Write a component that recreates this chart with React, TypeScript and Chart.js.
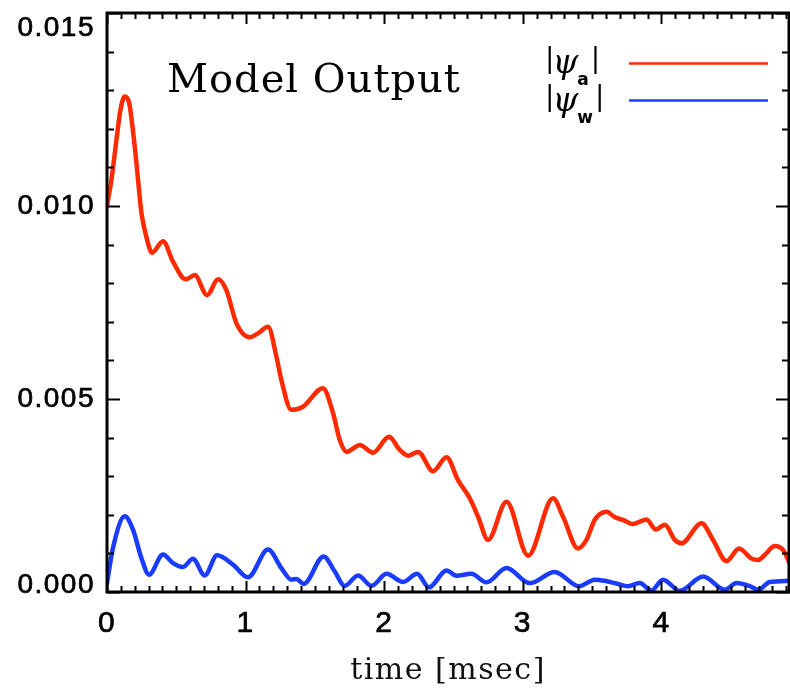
import { useEffect, useRef } from 'react';
import { Chart, registerables } from 'chart.js';

Chart.register(...registerables);

// ---------- data ----------
const titleText = 'Model Output';
const xAxisTitle = 'time [msec]';
const xMin = 0;
const xMax = 4.92;
const yMin = 0;
const yMax = 0.015;
const xMajorStep = 1;
const xMinorStep = 0.1;
const yMajorStep = 0.005;
const yMinorStep = 0.001;

const seriesLabels = ['|ψa|', '|ψw|'];
const seriesSymbols = ['ψ', 'ψ'];
const seriesSubscripts = ['a', 'w'];
const seriesColors = ['#ff2a00', '#1a3cff'];

// |psi_a| (red)
const redTime = [
  0, 0.032, 0.068, 0.097, 0.128, 0.159, 0.2, 0.224, 0.248, 0.284, 0.325, 0.404, 0.476, 0.568,
  0.633, 0.722, 0.801, 0.861, 0.934, 1.03, 1.089, 1.162, 1.222, 1.258, 1.33, 1.414, 1.558,
  1.631, 1.679, 1.732, 1.775, 1.823, 1.919, 2.035, 2.112, 2.172, 2.244, 2.352, 2.449, 2.532,
  2.617, 2.677, 2.749, 2.882, 3.038, 3.218, 3.29, 3.398, 3.459, 3.519, 3.603, 3.663, 3.735,
  3.791, 3.892, 3.959, 4.024, 4.096, 4.144, 4.289, 4.372, 4.469, 4.56, 4.649, 4.697, 4.745,
  4.817, 4.877, 4.92,
];
const redValue = [
  0.01001, 0.01068, 0.01171, 0.01249, 0.01284, 0.01268, 0.01154, 0.01068, 0.00983, 0.0092,
  0.00879, 0.00909, 0.00856, 0.0081, 0.00821, 0.00769, 0.0081, 0.00782, 0.00696, 0.0066,
  0.0067, 0.00687, 0.0061, 0.00549, 0.00472, 0.0048, 0.00528, 0.00463, 0.00394, 0.00363,
  0.00372, 0.00381, 0.00361, 0.00402, 0.00368, 0.00353, 0.00363, 0.00313, 0.00349, 0.0029,
  0.00243, 0.00195, 0.00135, 0.00234, 0.00094, 0.00243, 0.00195, 0.00113, 0.00135, 0.00187,
  0.00208, 0.00194, 0.00185, 0.00176, 0.00188, 0.00162, 0.00174, 0.00135, 0.00126, 0.00178,
  0.00135, 0.0008, 0.00113, 0.00087, 0.00083, 0.00096, 0.00119, 0.00109, 0.00078,
];

// |psi_w| (blue)
const blueTime = [
  0, 0.043, 0.128, 0.188, 0.248, 0.303, 0.404, 0.476, 0.548, 0.62, 0.705, 0.794, 0.909, 1.017,
  1.162, 1.258, 1.33, 1.366, 1.419, 1.563, 1.643, 1.715, 1.811, 1.908, 2.016, 2.136, 2.237,
  2.323, 2.449, 2.521, 2.629, 2.737, 2.882, 3.05, 3.23, 3.406, 3.519, 3.591, 3.675, 3.759,
  3.843, 3.928, 4.011, 4.132, 4.3, 4.457, 4.541, 4.637, 4.697, 4.781, 4.92,
];
const blueValue = [
  0.00023, 0.00114, 0.00196, 0.00161, 0.00088, 0.00045, 0.00097, 0.00075, 0.00065, 0.00086,
  0.00043, 0.00095, 0.00071, 0.00038, 0.0011, 0.00062, 0.00032, 0.00034, 0.00021, 0.00092,
  0.00053, 0.00016, 0.00043, 0.00016, 0.00047, 0.00026, 0.00047, 0.00012, 0.00056, 0.00042,
  0.00047, 0.00025, 0.00062, 0.00023, 0.00052, 0.00015, 0.00032, 0.00029, 0.00022, 0.00015,
  0.00023, 0.00004, 0.00032, 0.00003, 0.0004, 0.00006, 0.00023, 0.00015, 0.00006, 0.00026,
  0.00029,
];

const toPoints = (xs: number[], ys: number[]) => xs.map((x, i) => ({ x, y: ys[i] }));

// ---------- plugin: letter spacing for axis text ----------
const spacingPlugin = {
  id: 'spacing',
  beforeDraw(chart: any) {
    (chart.ctx as any).letterSpacing = '1.5px';
  },
  afterDraw(chart: any) {
    (chart.ctx as any).letterSpacing = '0px';
  },
};

// ---------- plugin: frame, inward ticks, title, legend ----------
const decorPlugin = {
  id: 'decor',
  afterDraw(chart: any) {
    const { ctx, chartArea: a, scales } = chart;
    const xs = scales.x;
    const ys = scales.y;
    ctx.save();
    (ctx as any).letterSpacing = '0px';
    ctx.strokeStyle = '#000';
    ctx.lineCap = 'butt';

    // minor/major ticks, pointing inward, mirrored on opposite sides
    ctx.lineWidth = 2;
    ctx.beginPath();
    const nx = Math.floor((xMax - xMin) / xMinorStep + 1e-6);
    for (let i = 0; i <= nx; i++) {
      const v = xMin + i * xMinorStep;
      const px = Math.round(xs.getPixelForValue(v)) + 0.5;
      const major = Math.abs(v / xMajorStep - Math.round(v / xMajorStep)) < 1e-6;
      const len = major ? 11 : 6;
      ctx.moveTo(px, a.bottom);
      ctx.lineTo(px, a.bottom - len);
      ctx.moveTo(px, a.top);
      ctx.lineTo(px, a.top + len);
    }
    const ny = Math.round((yMax - yMin) / yMinorStep);
    for (let i = 0; i <= ny; i++) {
      const v = yMin + i * yMinorStep;
      const py = Math.round(ys.getPixelForValue(v)) + 0.5;
      const major = i % Math.round(yMajorStep / yMinorStep) === 0;
      const len = major ? 13 : 7;
      ctx.moveTo(a.left, py);
      ctx.lineTo(a.left + len, py);
      ctx.moveTo(a.right, py);
      ctx.lineTo(a.right - len, py);
    }
    ctx.stroke();

    // frame
    ctx.lineWidth = 3;
    ctx.strokeRect(a.left, a.top, a.right - a.left, a.bottom - a.top);

    // title inside plot
    ctx.fillStyle = '#000';
    ctx.textBaseline = 'alphabetic';
    ctx.textAlign = 'left';
    (ctx as any).letterSpacing = '1px';
    ctx.font = '40px "DejaVu Serif"';
    ctx.fillText(titleText, a.left + 60, a.top + 79);
    (ctx as any).letterSpacing = '0px';

    // legend
    const rowBase = [a.top + 54, a.top + 92];
    const lineY = [a.top + 50.5, a.top + 87.5];
    chart.data.datasets.forEach((ds: any, i: number) => {
      const b = rowBase[i];
      let x = 545;
      ctx.fillStyle = '#000';
      ctx.font = '28px "DejaVu Serif"';
      ctx.fillText('|', x, b);
      x += ctx.measureText('|').width - 2;
      ctx.font = 'italic 33px "DejaVu Serif"';
      ctx.fillText(seriesSymbols[i], x, b + 6);
      x += ctx.measureText(seriesSymbols[i]).width;
      ctx.font = 'bold 17px "DejaVu Sans"';
      ctx.fillText(seriesSubscripts[i], x - 1, b + 18);
      x += ctx.measureText(seriesSubscripts[i]).width + 1;
      ctx.font = '28px "DejaVu Serif"';
      ctx.fillText('|', x, b);
      ctx.strokeStyle = ds.borderColor;
      ctx.lineWidth = 2.5;
      ctx.beginPath();
      ctx.moveTo(629, lineY[i]);
      ctx.lineTo(768, lineY[i]);
      ctx.stroke();
    });
    ctx.restore();
  },
};

export default function App() {
  const canvasRef = useRef<HTMLCanvasElement | null>(null);

  useEffect(() => {
    document.body.style.margin = '0';
    const canvas = canvasRef.current;
    if (!canvas) return;
    const chart = new Chart(canvas, {
      type: 'line',
      data: {
        datasets: [
          {
            label: seriesLabels[0],
            data: toPoints(redTime, redValue),
            borderColor: seriesColors[0],
            borderWidth: 4.5,
            pointRadius: 0,
            cubicInterpolationMode: 'monotone',
            borderJoinStyle: 'round',
            borderCapStyle: 'round',
            fill: false,
          },
          {
            label: seriesLabels[1],
            data: toPoints(blueTime, blueValue),
            borderColor: seriesColors[1],
            borderWidth: 4.5,
            pointRadius: 0,
            cubicInterpolationMode: 'monotone',
            borderJoinStyle: 'round',
            borderCapStyle: 'round',
            fill: false,
          },
        ],
      },
      options: {
        responsive: false,
        animation: false,
        devicePixelRatio: 1,
        layout: { padding: { top: 13, right: 1, left: 0, bottom: 0 } },
        plugins: {
          legend: { display: false },
          tooltip: { enabled: false },
          title: { display: false },
        },
        scales: {
          x: {
            type: 'linear',
            min: xMin,
            max: xMax,
            grid: { display: false, drawTicks: false },
            border: { display: false },
            ticks: {
              stepSize: xMajorStep,
              includeBounds: false,
              autoSkip: false,
              maxRotation: 0,
              padding: 14,
              color: '#000',
              textStrokeColor: '#000',
              textStrokeWidth: 0.7,
              font: { family: 'Liberation Sans', size: 30 },
              callback: (v: any) => String(Math.round(Number(v))),
            },
            title: {
              display: true,
              text: xAxisTitle,
              color: '#111',
              font: { family: 'DejaVu Serif', size: 30 },
              padding: { top: 0, bottom: 0 },
            },
            afterFit: (s: any) => {
              s.height = 97;
              s.paddingLeft = 0;
              s.paddingRight = 0;
            },
          },
          y: {
            type: 'linear',
            min: yMin,
            max: yMax,
            grid: { display: false, drawTicks: false },
            border: { display: false },
            ticks: {
              stepSize: yMajorStep,
              padding: 12,
              color: '#000',
              textStrokeColor: '#000',
              textStrokeWidth: 0.7,
              font: (c: any) => ({
                family: 'Liberation Sans',
                size: 28,
                lineHeight: c.index === 0 ? '14px' : c.index === 3 ? '30px' : 1.2,
              }),
              callback: (v: any, i: number, t: any[]) => {
                const s = Number(v).toFixed(3);
                if (i === 0) return [s, ''];
                if (i === t.length - 1) return ['', s];
                return s;
              },
            },
            afterFit: (s: any) => {
              s.width = 107;
              s.paddingTop = 0;
              s.paddingBottom = 0;
            },
          },
        },
      },
      plugins: [spacingPlugin, decorPlugin],
    } as any);
    return () => chart.destroy();
  }, []);

  return <canvas ref={canvasRef} width={790} height={689} style={{ display: 'block' }} />;
}
